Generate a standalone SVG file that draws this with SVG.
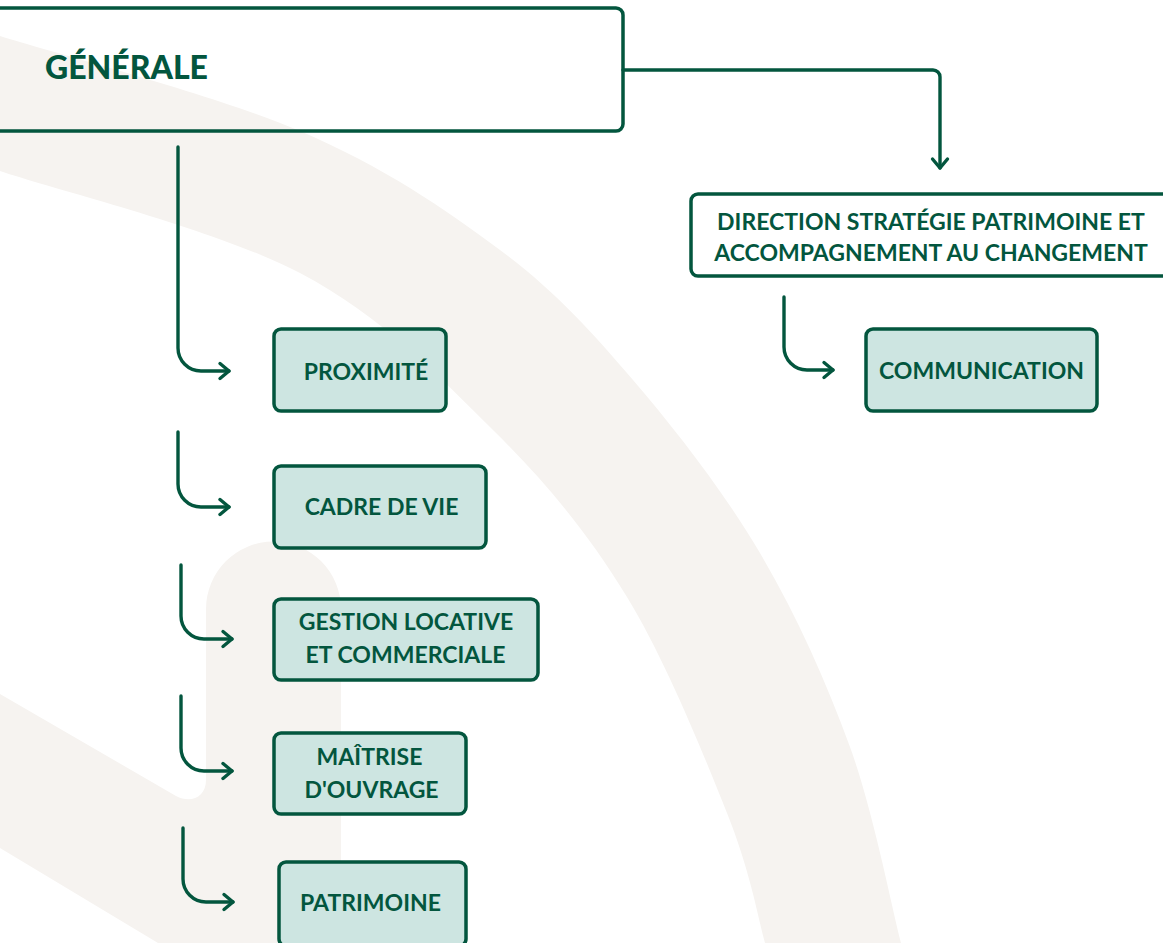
<svg xmlns="http://www.w3.org/2000/svg" width="1163" height="943" viewBox="0 0 1163 943">
  <style>
    .bg { fill: #f6f3f0; }
    .box { fill: none; stroke: #03563e; stroke-width: 3.5; }
    .unit { fill: #cde5e1; stroke: #03563e; stroke-width: 3.5; }
    .lbl { font-family: Lato, "Noto Sans", "Liberation Sans", sans-serif; font-weight: 700; font-size: 23px; fill: #03563e; text-anchor: middle; }
    .title { font-family: Lato, "Noto Sans", "Liberation Sans", sans-serif; font-weight: 900; font-size: 32px; fill: #03563e; }
    .link { fill: none; stroke: #03563e; stroke-width: 3.4; stroke-linecap: round; stroke-linejoin: round; marker-end: url(#chev); }
  </style>
  <defs>
    <marker id="chev" markerUnits="userSpaceOnUse" viewBox="-12 -10 14 20" markerWidth="14" markerHeight="20" refX="0" refY="0" orient="auto" overflow="visible">
      <path d="M-9,-7.5 L0,0 L-9,7.5" fill="none" stroke="#03563e" stroke-width="3.4" stroke-linecap="round" stroke-linejoin="round"/>
    </marker>
  </defs>

  <rect width="1163" height="943" fill="#ffffff"/>

  <!-- backdrop: large sweeping arc and hooked band -->
  <g id="backdrop">
    <path class="bg" d="M-30,27 L0,36 C55,53.3 216.7,95.3 300,131 C383.3,166.7 444.5,208.5 500,250 C555.5,291.5 589.7,329.5 633,380 C676.3,430.5 723.8,491.8 760,553 C796.2,614.2 826.5,682 850,747 C873.5,812 891,904.2 901,943 L910,980 L772,980 L765,943 C757.5,915.2 750,870.7 727,813 C704,755.3 666,660.8 627,597 C588,533.2 547.5,484 493,430 C438.5,376 382.2,316.2 300,273 C217.8,229.8 55,189.7 0,171 L-30,161 Z"/>
    <path class="bg" d="M0,694 L176,796 C191,804 206,797 206,780 L206,609 A67.5,67.5 0 0 1 341,609 L341,943 L158,943 L0,848 Z"/>
  </g>

  <!-- connectors -->
  <g id="connectors">
    <path class="link" d="M623,70 H933 A7,7 0 0 1 940,77 V168"/>
    <path class="link" d="M784,297 V347 A23,23 0 0 0 807,370 H833"/>
    <path class="link" d="M178,147 V348 A23,23 0 0 0 201,371 H229"/>
    <path class="link" d="M178,432 V484 A23,23 0 0 0 201,507 H229"/>
    <path class="link" d="M181,565 V616 A23,23 0 0 0 204,639 H232"/>
    <path class="link" d="M181,696 V748 A23,23 0 0 0 204,771 H232"/>
    <path class="link" d="M183,828 V879 A23,23 0 0 0 206,902 H233"/>
  </g>

  <g id="generale">
    <rect class="box" x="-20" y="8" width="643" height="123" rx="7"/>
    <text class="title" x="45" y="79">GÉNÉRALE</text>
  </g>

  <g id="direction-strategie">
    <rect class="box" x="691" y="194" width="490" height="82" rx="7"/>
    <text class="lbl" x="931" y="230">DIRECTION STRATÉGIE PATRIMOINE ET</text>
    <text class="lbl" x="931" y="261">ACCOMPAGNEMENT AU CHANGEMENT</text>
  </g>

  <g id="communication">
    <rect class="unit" x="866" y="329" width="231" height="82" rx="7"/>
    <text class="lbl" x="981.5" y="379">COMMUNICATION</text>
  </g>

  <g id="proximite">
    <rect class="unit" x="274" y="329" width="172" height="82" rx="7"/>
    <text class="lbl" x="366" y="380">PROXIMITÉ</text>
  </g>

  <g id="cadre-de-vie">
    <rect class="unit" x="274" y="466" width="212" height="82" rx="7"/>
    <text class="lbl" x="381.5" y="515">CADRE DE VIE</text>
  </g>

  <g id="gestion-locative">
    <rect class="unit" x="274" y="599" width="264" height="81" rx="7"/>
    <text class="lbl" x="406" y="630">GESTION LOCATIVE</text>
    <text class="lbl" x="405.5" y="663">ET COMMERCIALE</text>
  </g>

  <g id="maitrise-ouvrage">
    <rect class="unit" x="274" y="733" width="192" height="81" rx="7"/>
    <text class="lbl" x="369.5" y="765">MAÎTRISE</text>
    <text class="lbl" x="371.5" y="798">D'OUVRAGE</text>
  </g>

  <g id="patrimoine">
    <rect class="unit" x="279" y="862" width="187" height="84" rx="7"/>
    <text class="lbl" x="370.5" y="911">PATRIMOINE</text>
  </g>
</svg>
